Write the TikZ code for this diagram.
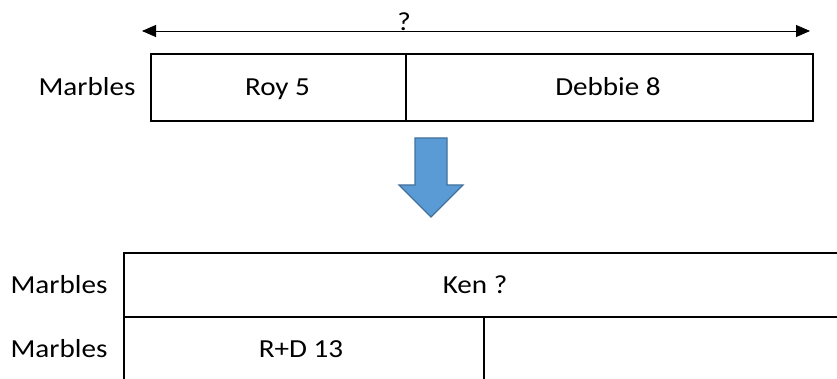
\documentclass[tikz,border=0pt]{standalone}
\usepackage{fontspec}
\setmainfont{Carlito}[FakeStretch=1.12]
\usetikzlibrary{arrows.meta}
\definecolor{arrowfill}{HTML}{5B9BD5}
\definecolor{arrowedge}{HTML}{41719C}
\begin{document}
\begin{tikzpicture}[x=1pt,y=-1pt,
  cell/.style={draw=black,line width=1.6pt,anchor=north west,inner sep=0pt},
  lbl/.style={font=\fontsize{26}{30}\selectfont,inner sep=0pt,anchor=base},
  dimline/.style={line width=0.9pt,{Triangle[length=14pt,width=12pt]}-{Triangle[length=14pt,width=12pt]}}]
\useasboundingbox (0,0) rectangle (837,379);
\clip (0,0) rectangle (837,379);
% top bar
\node[cell,minimum width=255pt,minimum height=67pt] (roy) at (150,53) {};
\node[cell,minimum width=407pt,minimum height=67pt] (debbie) at (405,53) {};
\node[lbl] (royt) at (277.5,96) {Roy 5};
\node[lbl] (debt) at (608,96) {Debbie 8};
\node[lbl] (m1) at (87,96) {Marbles};
% dimension arrow
\coordinate (al) at (142,31);
\coordinate (ar) at (810,31);
\draw[dimline] (al) -- (ar);
\node[lbl] (q) at (404,31) {?};
% blue down arrow
\draw[arrowedge,fill=arrowfill,line width=1.2pt,line join=miter]
  (415,138) -- (447,138) -- (447,185) -- (463,185) -- (431,217) -- (399,185) -- (415,185) -- cycle;
% bottom bars
\node[cell,minimum width=730pt,minimum height=64pt] (ken) at (123,252) {};
\node[cell,minimum width=360pt,minimum height=70pt] (rd) at (123,316) {};
\node[cell,minimum width=370pt,minimum height=70pt] (rest) at (483,316) {};
\node[lbl] (kent) at (475,293) {Ken ?};
\node[lbl] (rdt) at (301,357) {R+D 13};
\node[lbl] (m2) at (59,293) {Marbles};
\node[lbl] (m3) at (59,357) {Marbles};
\end{tikzpicture}
\end{document}
